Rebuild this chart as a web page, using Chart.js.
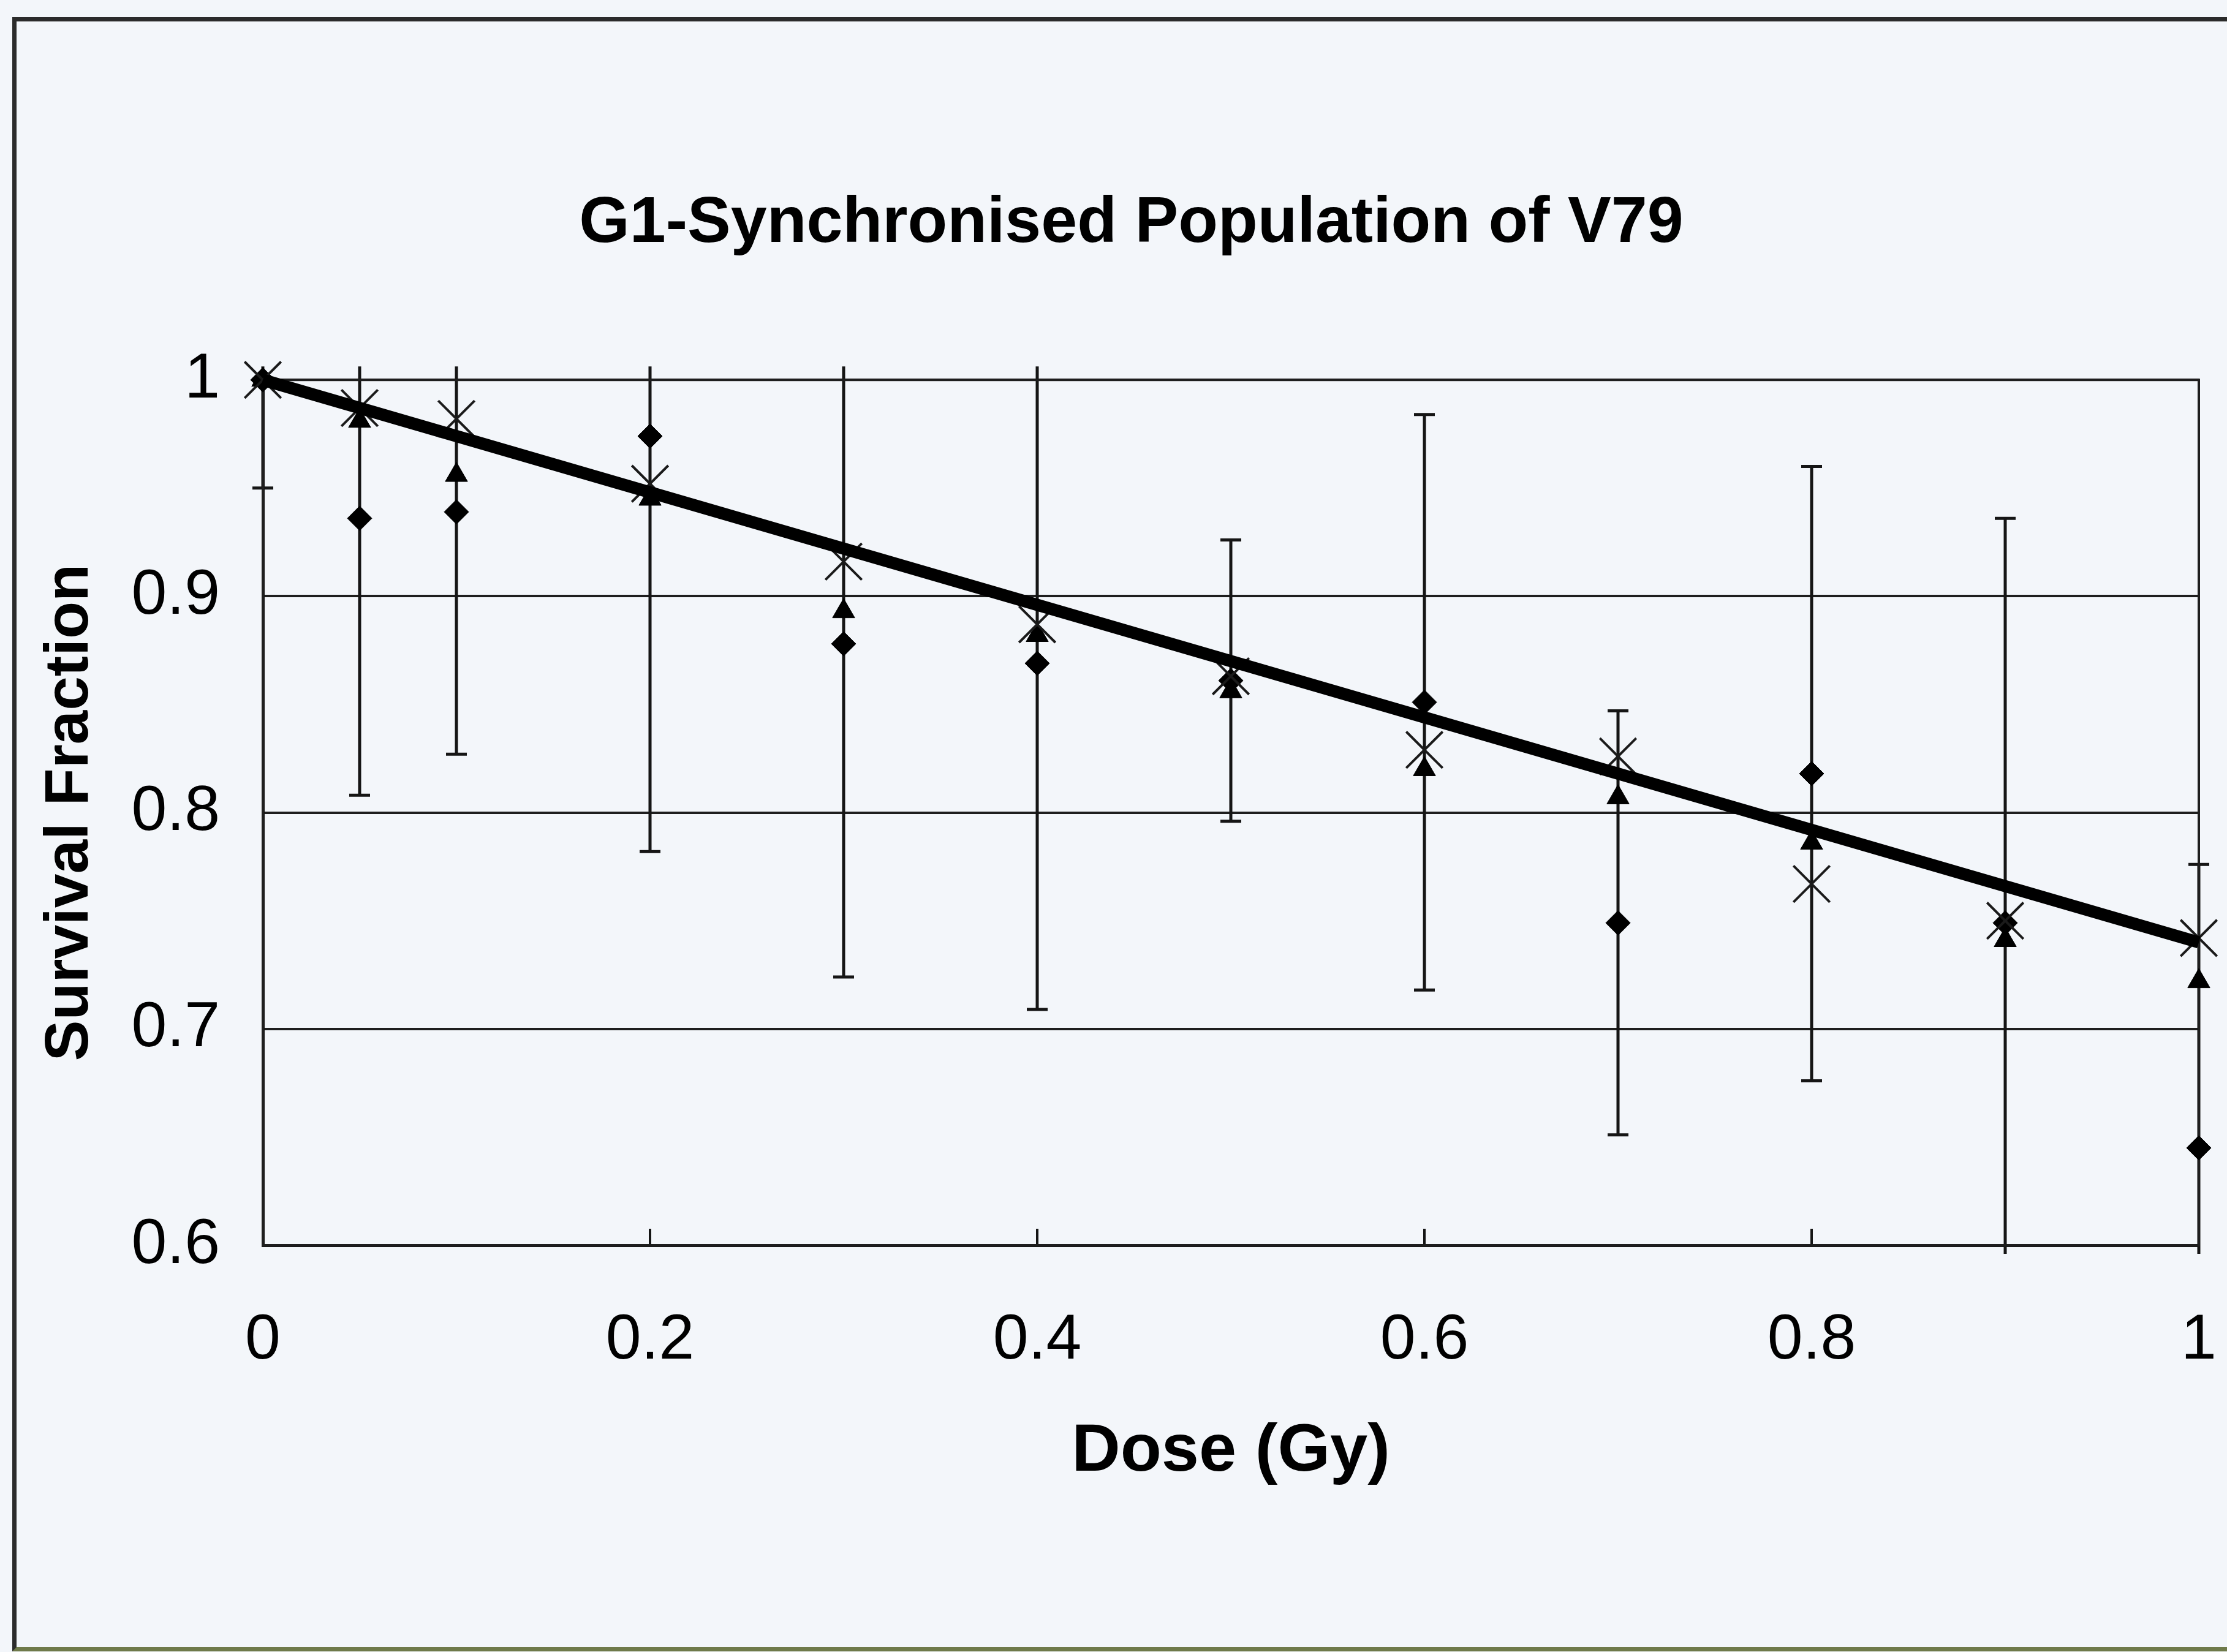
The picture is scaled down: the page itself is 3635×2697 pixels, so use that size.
<!DOCTYPE html>
<html lang="en">
<head>
  <meta charset="UTF-8" />
  <title>G1-Synchronised Population of V79</title>
  <script src="https://cdn.jsdelivr.net/npm/chart.js"></script>
  <style>
    html, body {
      margin: 0;
      padding: 0;
      overflow: hidden;
      background-color: #f3f6fa;
    }
    /* scanned page frame around the chart */
    .frame {
      position: absolute;
      left: 20px;
      top: 28px;
      width: 3700px;
      height: 2654px;
      border: 7px solid #2b2b2b;
      border-bottom-color: #6f7a4a;
    }
    .chart-box {
      position: absolute;
      left: 0;
      top: 0;
      width: 3635px;
      height: 2697px;
    }
  </style>
</head>
<body>
  <div class="frame"></div>
  <div class="chart-box">
    <canvas id="survivalChart"></canvas>
  </div>

  <script>
    // dose points (Gy)
    const doseValues = [0, 0.05, 0.1, 0.2, 0.3, 0.4, 0.5, 0.6, 0.7, 0.8, 0.9, 1.0];
    // survival fraction, three experiments
    const diamondSF = [1.0, 0.936, 0.939, 0.974, 0.878, 0.869, 0.861, 0.851, 0.749, 0.818, 0.749, 0.645];
    const diamondErr = [0.05, 0.128, 0.112, 0.192, 0.154, 0.16, 0.065, 0.133, 0.098, 0.142, 0.187, 0.131];
    const triangleSF = [1.0, 0.981, 0.956, 0.945, 0.893, 0.882, 0.856, 0.82, 0.807, 0.786, 0.741, 0.722];
    const crossSF = [1.0, 0.987, 0.982, 0.952, 0.916, 0.887, 0.863, 0.829, 0.826, 0.767, 0.75, 0.742];
    // fitted curve end points
    const fitDose = [0, 1];
    const fitSF = [1.0, 0.74];

    const toPoints = (xs, ys) => xs.map((x, i) => ({ x: x, y: ys[i] }));
    const tickText = v => String(Number(v.toFixed(2)));

    // vertical error bars for any dataset that carries errorBars
    const errorBarPlugin = {
      id: 'errorBars',
      beforeDatasetsDraw(chart) {
        const { ctx, chartArea, scales } = chart;
        const topLimit = chartArea.top - 22;
        const bottomLimit = chartArea.bottom + 14;
        ctx.save();
        ctx.strokeStyle = '#151515';
        ctx.lineWidth = 5;
        chart.data.datasets.forEach(ds => {
          if (!ds.errorBars) return;
          ds.data.forEach((p, i) => {
            const err = ds.errorBars[i];
            const x = scales.x.getPixelForValue(p.x);
            let yHi = scales.y.getPixelForValue(p.y + err);
            let yLo = scales.y.getPixelForValue(p.y - err);
            const capHi = yHi >= topLimit;
            const capLo = yLo <= bottomLimit;
            yHi = Math.max(yHi, topLimit);
            yLo = Math.min(yLo, bottomLimit);
            ctx.beginPath();
            ctx.moveTo(x, yHi);
            ctx.lineTo(x, yLo);
            if (capHi) { ctx.moveTo(x - 17, yHi); ctx.lineTo(x + 17, yHi); }
            if (capLo) { ctx.moveTo(x - 17, yLo); ctx.lineTo(x + 17, yLo); }
            ctx.stroke();
          });
        });
        ctx.restore();
      }
    };

    // plot area outline (right edge)
    const plotFramePlugin = {
      id: 'plotFrame',
      beforeDatasetsDraw(chart) {
        const { ctx, chartArea } = chart;
        ctx.save();
        ctx.strokeStyle = '#1e1e1e';
        ctx.lineWidth = 4;
        ctx.strokeRect(chartArea.left, chartArea.top, chartArea.right - chartArea.left, chartArea.bottom - chartArea.top);
        ctx.restore();
      }
    };

    Chart.defaults.font.family = "'Liberation Sans', Arial, sans-serif";
    Chart.defaults.color = '#000';

    new Chart(document.getElementById('survivalChart'), {
      type: 'scatter',
      data: {
        datasets: [
          {
            label: 'Fit',
            data: toPoints(fitDose, fitSF),
            showLine: true,
            borderColor: '#000',
            borderWidth: 20,
            pointRadius: 0,
            clip: false,
            order: 0
          },
          {
            label: 'Series 3',
            data: toPoints(doseValues, crossSF),
            pointStyle: 'crossRot',
            pointRadius: 42,
            borderColor: '#1a1a1a',
            borderWidth: 4,
            clip: false,
            order: 1
          },
          {
            label: 'Series 2',
            data: toPoints(doseValues, triangleSF),
            pointStyle: 'triangle',
            pointRadius: 21,
            backgroundColor: '#000',
            borderColor: '#000',
            borderWidth: 1,
            clip: false,
            order: 2
          },
          {
            label: 'Series 1',
            data: toPoints(doseValues, diamondSF),
            errorBars: diamondErr,
            pointStyle: 'rectRot',
            pointRadius: 20,
            backgroundColor: '#000',
            borderColor: '#000',
            borderWidth: 1,
            clip: false,
            order: 3
          }
        ]
      },
      options: {
        responsive: true,
        maintainAspectRatio: false,
        animation: false,
        layout: { padding: { left: 100, right: 42, top: 0, bottom: 0 } },
        plugins: {
          legend: { display: false },
          tooltip: { enabled: false },
          title: {
            display: true,
            text: 'G1-Synchronised Population of V79',
            font: { size: 106, weight: 'bold' },
            color: '#000',
            padding: { top: 302, bottom: 191 }
          }
        },
        scales: {
          x: {
            type: 'linear',
            min: 0,
            max: 1,
            afterFit: scale => {
              scale.height = 664;
              scale.paddingLeft = 0;
              scale.paddingRight = 0;
            },
            ticks: { stepSize: 0.2, font: { size: 104 }, color: '#000', padding: 121, callback: tickText },
            // short tick marks pointing into the plot
            grid: { drawOnChartArea: false, drawTicks: true, tickLength: -27, color: '#151515', lineWidth: 4 },
            border: { display: true, color: '#151515', width: 5 },
            title: {
              display: true,
              text: 'Dose (Gy)',
              font: { size: 110, weight: 'bold' },
              color: '#000',
              padding: { top: 0, bottom: 260 }
            }
          },
          y: {
            min: 0.6,
            max: 1.0,
            afterFit: scale => { scale.width = 329; },
            ticks: { stepSize: 0.1, font: { size: 104 }, color: '#000', padding: 70, callback: tickText },
            grid: { color: '#1e1e1e', lineWidth: 4, drawTicks: false },
            border: { display: true, color: '#151515', width: 5 },
            title: {
              display: true,
              text: 'Survival Fraction',
              font: { size: 100, weight: 'bold' },
              color: '#000',
              padding: { top: -45, bottom: 0 }
            }
          }
        }
      },
      plugins: [errorBarPlugin, plotFramePlugin]
    });
  </script>
</body>
</html>
